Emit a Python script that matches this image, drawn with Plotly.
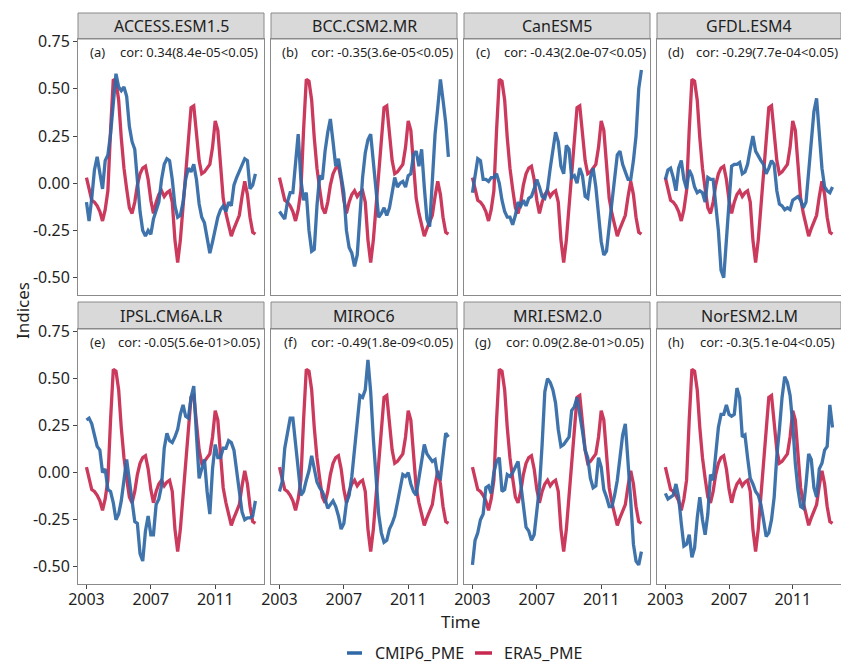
import pandas as pd
import plotly.graph_objects as go

# ---------------- data ----------------
time = pd.date_range("2003-01-01", periods=64, freq="2MS")

models = ["ACCESS.ESM1.5", "BCC.CSM2.MR", "CanESM5", "GFDL.ESM4",
          "IPSL.CM6A.LR", "MIROC6", "MRI.ESM2.0", "NorESM2.LM"]
panel_tags = ["(a)", "(b)", "(c)", "(d)", "(e)", "(f)", "(g)", "(h)"]
cor_labels = ["cor: 0.34(8.4e-05<0.05)", "cor: -0.35(3.6e-05<0.05)",
              "cor: -0.43(2.0e-07<0.05)", "cor: -0.29(7.7e-04<0.05)",
              "cor: -0.05(5.6e-01>0.05)", "cor: -0.49(1.8e-09<0.05)",
              "cor: 0.09(2.8e-01>0.05)", "cor: -0.3(5.1e-04<0.05)"]

era5_pme = [0.03, -0.04, -0.09, -0.10, -0.12, -0.15, -0.20, -0.14, -0.04, 0.28,
            0.55, 0.54, 0.44, 0.24, 0.08, -0.03, -0.13, -0.16, -0.10, -0.01,
            0.05, 0.08, 0.09, 0.02, -0.09, -0.16, -0.10, -0.06, -0.04, -0.07,
            -0.05, -0.04, -0.10, -0.30, -0.42, -0.30, -0.12, 0.05, 0.25, 0.40,
            0.41, 0.28, 0.12, 0.05, 0.06, 0.08, 0.10, 0.19, 0.33, 0.28,
            0.07, -0.08, -0.16, -0.23, -0.28, -0.24, -0.20, -0.17, -0.07, 0.01,
            -0.06, -0.18, -0.26, -0.27]

cmip6_access = [-0.10, -0.20, -0.08, 0.07, 0.14, 0.04, -0.03, 0.12, 0.15, 0.26,
                0.42, 0.58, 0.51, 0.49, 0.51, 0.46, 0.30, 0.22, 0.18, -0.01,
                -0.15, -0.25, -0.28, -0.25, -0.27, -0.19, -0.15, -0.10, 0.02, 0.10,
                0.13, 0.12, 0.02, -0.12, -0.18, -0.17, -0.10, 0.02, 0.08, 0.06,
                0.10, 0.02, -0.11, -0.18, -0.21, -0.28, -0.37, -0.31, -0.24, -0.18,
                -0.14, -0.12, -0.15, -0.10, -0.12, -0.01, 0.03, 0.06, 0.09, 0.13,
                0.12, -0.03, -0.01, 0.05]
cmip6_bcc = [-0.15, -0.17, -0.19, -0.10, -0.05, -0.05, 0.12, 0.26, 0.02, -0.09,
             -0.05, -0.25, -0.36, -0.35, -0.12, 0.04, 0.02, 0.17, 0.27, 0.34,
             0.22, 0.09, 0.13, 0.05, -0.05, -0.25, -0.34, -0.37, -0.44, -0.38,
             -0.16, 0.03, 0.16, 0.23, 0.26, 0.11, -0.03, -0.18, -0.16, -0.13,
             -0.17, -0.13, -0.05, 0.03, -0.02, 0.00, 0.01, -0.02, 0.04, 0.05,
             0.15, 0.17, 0.09, 0.18, -0.02, -0.19, -0.23, 0.00, 0.26, 0.40,
             0.55, 0.44, 0.32, 0.14]
cmip6_canesm = [-0.05, 0.05, 0.13, 0.12, 0.02, 0.02, 0.01, 0.03, 0.03, 0.05,
                0.00, -0.09, -0.15, -0.18, -0.18, -0.22, -0.17, -0.10, -0.12, -0.09,
                -0.12, -0.08, -0.07, -0.03, 0.02, -0.02, -0.07, -0.08, -0.03, 0.08,
                0.19, 0.27, 0.22, 0.09, 0.05, 0.20, 0.18, 0.03, 0.04, 0.00,
                0.08, 0.04, -0.07, -0.08, 0.03, 0.08, -0.02, -0.18, -0.31, -0.38,
                -0.36, -0.23, -0.11, 0.04, 0.15, 0.17, 0.10, 0.06, 0.02, 0.02,
                0.12, 0.25, 0.50, 0.60]
cmip6_gfdl = [0.02, 0.07, 0.08, 0.03, -0.04, 0.08, 0.12, 0.02, -0.03, 0.07,
              0.04, -0.02, -0.05, -0.04, -0.05, -0.10, 0.03, 0.02, 0.02, -0.10,
              -0.25, -0.46, -0.50, -0.30, -0.07, 0.09, 0.10, 0.10, 0.11, 0.05,
              0.06, 0.10, 0.18, 0.25, 0.17, 0.14, 0.12, 0.10, 0.05, 0.08,
              0.12, 0.10, -0.04, -0.11, -0.12, -0.14, -0.13, -0.14, -0.09, -0.08,
              -0.07, -0.09, -0.13, -0.10, 0.06, 0.23, 0.38, 0.45, 0.26, 0.08,
              -0.02, -0.04, -0.05, -0.02]
cmip6_ipsl = [0.28, 0.29, 0.26, 0.19, 0.14, 0.12, 0.00, 0.02, -0.09, -0.10,
              -0.16, -0.25, -0.22, -0.15, -0.04, 0.07, -0.04, -0.15, -0.26, -0.27,
              -0.43, -0.47, -0.31, -0.23, -0.33, -0.33, -0.17, -0.14, -0.07, 0.13,
              0.21, 0.17, 0.16, 0.19, 0.23, 0.31, 0.36, 0.30, 0.29, 0.40,
              0.46, 0.20, -0.03, 0.02, 0.07, -0.10, -0.22, 0.02, 0.15, 0.08,
              0.08, 0.13, 0.13, 0.17, 0.16, 0.12, 0.00, -0.10, -0.21, -0.25,
              -0.24, -0.24, -0.23, -0.15]
cmip6_miroc = [-0.10, -0.05, 0.13, 0.21, 0.29, 0.29, 0.17, 0.02, -0.12, -0.10,
               -0.04, 0.01, 0.09, 0.02, -0.05, -0.08, -0.10, -0.14, -0.19, -0.17,
               -0.15, -0.18, -0.23, -0.30, -0.27, -0.16, -0.12, -0.02, 0.13, 0.29,
               0.41, 0.40, 0.44, 0.60, 0.43, 0.18, -0.06, -0.22, -0.32, -0.37,
               -0.36, -0.30, -0.27, -0.23, -0.16, -0.08, -0.01, -0.02, 0.00, -0.06,
               -0.10, -0.12, -0.02, 0.08, 0.15, 0.10, 0.08, 0.06, 0.07, -0.02,
               -0.03, 0.08, 0.21, 0.19]
cmip6_mri = [-0.49, -0.36, -0.32, -0.25, -0.22, -0.08, -0.07, -0.11, 0.00, 0.06,
             0.08, -0.10, -0.09, -0.01, -0.02, 0.00, 0.03, 0.06, -0.06, -0.19,
             -0.29, -0.31, -0.36, -0.33, -0.20, -0.08, 0.15, 0.43, 0.50, 0.48,
             0.44, 0.37, 0.23, 0.14, 0.15, 0.17, 0.19, 0.33, 0.35, 0.40,
             0.32, 0.22, 0.12, 0.08, -0.03, -0.08, -0.07, 0.08, 0.03, -0.09,
             -0.13, -0.18, -0.18, -0.12, -0.04, 0.10, 0.20, 0.26, 0.08, -0.15,
             -0.38, -0.47, -0.49, -0.42]
cmip6_noresm = [-0.11, -0.14, -0.13, -0.12, -0.06, -0.13, -0.27, -0.39, -0.38, -0.33,
                -0.45, -0.40, -0.24, -0.13, -0.25, -0.33, -0.22, -0.01, -0.04, 0.11,
                0.24, 0.31, 0.31, 0.36, 0.31, 0.30, 0.31, 0.45, 0.40, 0.19,
                0.20, 0.08, -0.03, -0.06, -0.10, -0.12, -0.17, -0.25, -0.34, -0.32,
                -0.25, -0.13, 0.09, 0.23, 0.40, 0.51, 0.48, 0.41, 0.26, 0.05,
                -0.09, -0.18, -0.19, -0.06, 0.10, 0.07, -0.08, -0.13, 0.02, 0.05,
                0.12, 0.14, 0.36, 0.24]

cmip6_series = [cmip6_access, cmip6_bcc, cmip6_canesm, cmip6_gfdl,
                cmip6_ipsl, cmip6_miroc, cmip6_mri, cmip6_noresm]

y_tickvals = [-0.5, -0.25, 0.0, 0.25, 0.5, 0.75]
y_ticktext = ["-0.50", "-0.25", "0.00", "0.25", "0.50", "0.75"]
x_tickvals = ["2003-01-01", "2007-01-01", "2011-01-01"]
x_ticktext = ["2003", "2007", "2011"]

# ---------------- styling / layout ----------------
W, H = 841, 664
BLUE = "#2F68A6"
RED = "#C7294F"
FONT = "Noto Sans"
TXT = "#1f1f1f"
BORDER = "#8a8a8a"

cols_px = [(78, 264), (271, 457), (464, 650), (657, 841)]
rows_px = [(13, 39, 295), (302, 329, 584)]  # strip top, panel top, panel bottom

x_range = ["2002-06-23", "2014-01-12"]
y_range = [-0.592, 0.764]
tag_x = "2003-09-05"
cor_x = "2009-05-22"
ann_y = 0.695


def px_x(v):
    return v / W


def px_y(v):
    return 1 - v / H


fig = go.Figure()
layout = dict(
    width=W, height=H,
    margin=dict(l=0, r=0, t=0, b=0, autoexpand=False),
    paper_bgcolor="white", plot_bgcolor="white",
    showlegend=False,
    font=dict(family=FONT, color=TXT),
)
shapes = []
annotations = []

for i, model in enumerate(models):
    r, c = divmod(i, 4)
    n = i + 1
    xa = "x" if n == 1 else f"x{n}"
    ya = "y" if n == 1 else f"y{n}"
    xkey = "xaxis" if n == 1 else f"xaxis{n}"
    ykey = "yaxis" if n == 1 else f"yaxis{n}"
    x0, x1 = cols_px[c]
    st, pt, pb = rows_px[r]

    fig.add_trace(go.Scatter(x=time, y=era5_pme, mode="lines", name="ERA5_PME",
                             line=dict(color=RED, width=3.3), opacity=0.92,
                             xaxis=xa, yaxis=ya, hoverinfo="skip"))
    fig.add_trace(go.Scatter(x=time, y=cmip6_series[i], mode="lines", name="CMIP6_PME",
                             line=dict(color=BLUE, width=3.3), opacity=0.92,
                             xaxis=xa, yaxis=ya, hoverinfo="skip"))

    bottom = (r == 1)
    left = (c == 0)
    layout[xkey] = dict(
        domain=[px_x(x0), min(px_x(x1), 1.0)], anchor=ya, range=x_range,
        type="date", showgrid=False, zeroline=False, automargin=False,
        showline=True, mirror=True, linecolor=BORDER, linewidth=1,
        tickvals=x_tickvals, ticktext=x_ticktext,
        ticks="outside" if bottom else "", ticklen=4, tickcolor="#444",
        ticklabelstandoff=-3,
        showticklabels=bottom, tickfont=dict(size=16, color=TXT, family=FONT),
    )
    layout[ykey] = dict(
        domain=[px_y(pb), px_y(pt)], anchor=xa, range=y_range,
        showgrid=False, zeroline=False, automargin=False,
        showline=True, mirror=True, linecolor=BORDER, linewidth=1,
        tickvals=y_tickvals, ticktext=y_ticktext,
        ticks="outside" if left else "", ticklen=4, tickcolor="#444",
        showticklabels=left, tickfont=dict(size=16, color=TXT, family=FONT),
    )

    # strip
    shapes.append(dict(type="rect", xref="paper", yref="paper",
                       x0=px_x(x0), x1=min(px_x(x1), 1.0), y0=px_y(pt), y1=px_y(st),
                       fillcolor="#D9D9D9", line=dict(color=BORDER, width=1), layer="below"))
    annotations.append(dict(text=model, xref="paper", yref="paper",
                            x=(px_x(x0) + min(px_x(x1), 1.0)) / 2, y=(px_y(pt) + px_y(st)) / 2,
                            showarrow=False, xanchor="center", yanchor="middle",
                            font=dict(size=16, color=TXT, family=FONT)))
    # panel labels
    annotations.append(dict(text=panel_tags[i], xref=xa, yref=ya, x=tag_x, y=ann_y,
                            showarrow=False, xanchor="center", yanchor="middle",
                            font=dict(size=13, color=TXT, family=FONT)))
    annotations.append(dict(text=cor_labels[i], xref=xa, yref=ya, x=cor_x, y=ann_y,
                            showarrow=False, xanchor="center", yanchor="middle",
                            font=dict(size=13, color=TXT, family=FONT)))

# axis titles
annotations.append(dict(text="Indices", xref="paper", yref="paper",
                        x=px_x(22), y=px_y(311), showarrow=False, textangle=-90,
                        xanchor="center", yanchor="middle",
                        font=dict(size=17, color=TXT, family=FONT)))
annotations.append(dict(text="Time", xref="paper", yref="paper",
                        x=px_x(460), y=px_y(621), showarrow=False,
                        xanchor="center", yanchor="middle",
                        font=dict(size=17, color=TXT, family=FONT)))

# legend (manual, ggplot-style bottom legend)
legend_items = [("CMIP6_PME", BLUE, 347, 362, 373), ("ERA5_PME", RED, 475, 492, 502)]
for name, col, lx0, lx1, tx in legend_items:
    shapes.append(dict(type="line", xref="paper", yref="paper",
                       x0=px_x(lx0), x1=px_x(lx1), y0=px_y(653), y1=px_y(653),
                       line=dict(color=col, width=3.5)))
    annotations.append(dict(text=name, xref="paper", yref="paper",
                            x=px_x(tx), y=px_y(653), showarrow=False,
                            xanchor="left", yanchor="middle",
                            font=dict(size=16, color=TXT, family=FONT)))

layout["shapes"] = shapes
layout["annotations"] = annotations
fig.update_layout(**layout)

fig.write_html("out.html")
